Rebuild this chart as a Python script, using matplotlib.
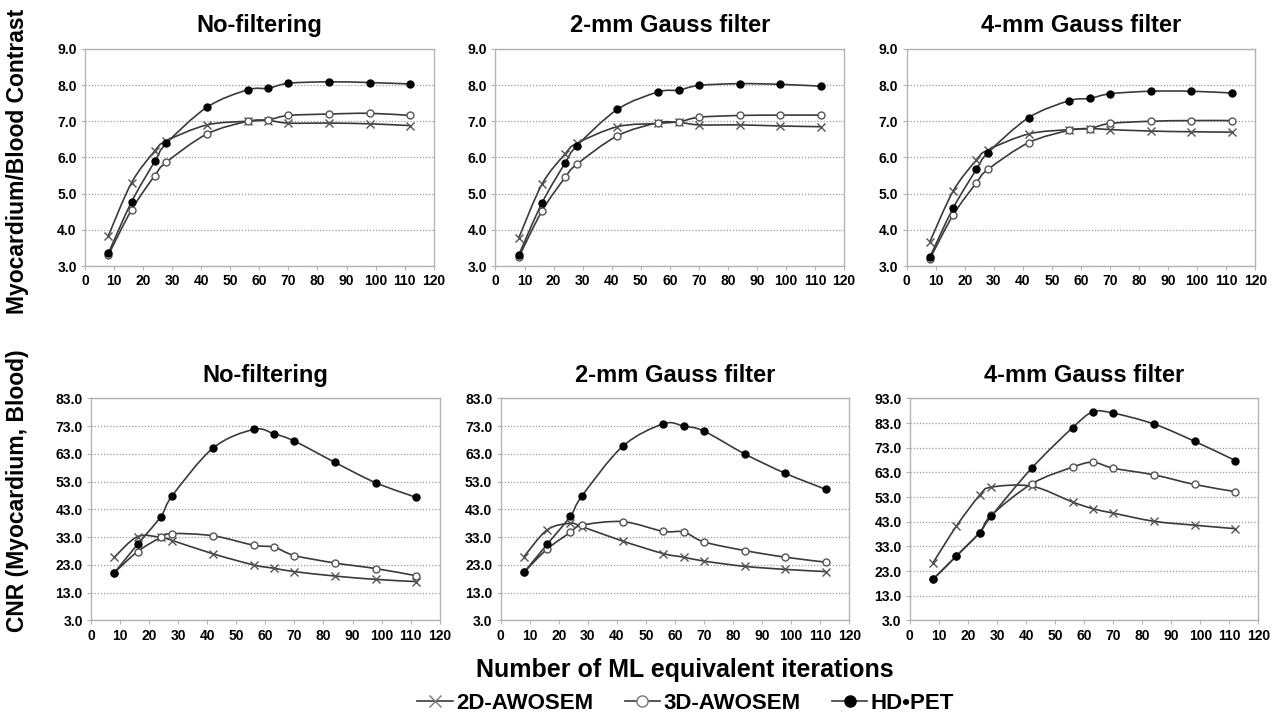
import numpy as np
import matplotlib
matplotlib.use("Agg")
import matplotlib.pyplot as plt
from matplotlib.path import Path
from matplotlib.patches import PathPatch
from matplotlib.lines import Line2D

plt.rcParams['font.family'] = ['Liberation Sans', 'DejaVu Sans']
plt.rcParams['font.weight'] = 'bold'

# ML equivalent iterations
iters = [8, 16, 24, 28, 42, 56, 63, 70, 84, 98, 112]

# Myocardium/Blood contrast
con_nofilt_2d = [3.83, 5.30, 6.18, 6.46, 6.90, 7.00, 7.02, 6.95, 6.95, 6.93, 6.88]
con_nofilt_3d = [3.30, 4.55, 5.50, 5.87, 6.65, 7.00, 7.04, 7.16, 7.20, 7.22, 7.16]
con_nofilt_hd = [3.35, 4.77, 5.89, 6.39, 7.39, 7.87, 7.91, 8.05, 8.09, 8.07, 8.03]

con_2mm_2d = [3.77, 5.26, 6.10, 6.39, 6.85, 6.94, 6.97, 6.90, 6.90, 6.87, 6.85]
con_2mm_3d = [3.24, 4.52, 5.45, 5.81, 6.60, 6.96, 6.98, 7.11, 7.16, 7.17, 7.17]
con_2mm_hd = [3.30, 4.74, 5.85, 6.32, 7.33, 7.81, 7.86, 7.99, 8.04, 8.02, 7.97]

con_4mm_2d = [3.67, 5.07, 5.93, 6.21, 6.65, 6.77, 6.80, 6.77, 6.73, 6.71, 6.70]
con_4mm_3d = [3.20, 4.41, 5.30, 5.67, 6.41, 6.75, 6.80, 6.94, 7.00, 7.02, 7.02]
con_4mm_hd = [3.25, 4.60, 5.67, 6.13, 7.10, 7.57, 7.63, 7.76, 7.83, 7.83, 7.78]

# CNR (Myocardium, Blood)
cnr_nofilt_2d = [25.8, 33.2, 32.9, 31.8, 27.0, 23.0, 21.8, 20.6, 19.0, 17.8, 17.0]
cnr_nofilt_3d = [20.2, 27.8, 32.9, 34.3, 33.5, 30.1, 29.4, 26.4, 23.7, 21.7, 19.1]
cnr_nofilt_hd = [20.2, 30.4, 40.4, 48.0, 65.1, 71.8, 70.2, 67.6, 59.9, 52.6, 47.3]

cnr_2mm_2d = [25.9, 35.6, 38.0, 36.8, 31.6, 27.1, 25.8, 24.4, 22.5, 21.4, 20.6]
cnr_2mm_3d = [20.3, 28.7, 34.7, 37.3, 38.6, 35.1, 34.9, 31.3, 28.2, 25.8, 24.0]
cnr_2mm_hd = [20.3, 30.4, 40.5, 47.8, 65.7, 73.8, 73.0, 71.2, 63.0, 56.0, 50.2]

cnr_4mm_2d = [26.4, 41.2, 53.7, 57.0, 57.4, 51.0, 48.3, 46.5, 43.2, 41.6, 40.2]
cnr_4mm_3d = [19.7, 29.1, 38.6, 45.6, 58.4, 65.1, 67.1, 64.7, 62.0, 58.1, 55.2]
cnr_4mm_hd = [19.7, 29.1, 38.6, 45.2, 64.8, 81.1, 87.5, 87.0, 82.6, 75.6, 67.8]

titles = ["No-filtering", "2-mm Gauss filter", "4-mm Gauss filter"]
series_names = ["2D-AWOSEM", "3D-AWOSEM", "HD\u2022PET"]

line_col = "#3a3a3a"
frame_col = "#b4b4b4"


def smooth_path(xs, ys):
    # Excel-style smoothed line: cubic Bezier through every point
    pts = np.column_stack([xs, ys]).astype(float)
    n = len(pts)
    verts = [pts[0]]
    codes = [Path.MOVETO]
    for i in range(n - 1):
        p0 = pts[i - 1] if i > 0 else pts[i]
        p1 = pts[i]
        p2 = pts[i + 1]
        p3 = pts[i + 2] if i + 2 < n else pts[i + 1]
        c1 = p1 + (p2 - p0) / 6.0
        c2 = p2 - (p3 - p1) / 6.0
        verts += [c1, c2, p2]
        codes += [Path.CURVE4] * 3
    return Path(verts, codes)


def draw_panel(ax, s2d, s3d, shd, yticks, title):
    for ys in (s2d, s3d, shd):
        ax.add_patch(PathPatch(smooth_path(iters, ys), fill=False,
                               edgecolor=line_col, lw=1.2, zorder=2))
    ax.plot(iters, s2d, ls='none', marker='x', ms=5.5, mew=1.0,
            color="#555555", zorder=3)
    ax.plot(iters, s3d, ls='none', marker='o', ms=5, mew=1.0,
            mfc='white', mec="#555555", zorder=4)
    ax.plot(iters, shd, ls='none', marker='o', ms=5, mew=1.0,
            mfc='black', mec='black', zorder=5)
    ax.set_xlim(0, 120)
    ax.set_xticks(range(0, 121, 10))
    ax.set_ylim(yticks[0], yticks[-1])
    ax.set_yticks(yticks)
    ax.set_yticklabels(["%.1f" % v for v in yticks])
    ax.grid(axis='y', ls=(0, (1, 1.5)), color="#9a9a9a", lw=0.9)
    ax.set_axisbelow(True)
    for sp in ax.spines.values():
        sp.set_color(frame_col)
        sp.set_linewidth(1.0)
    ax.tick_params(axis='both', labelsize=10, length=3, color=frame_col,
                   pad=3, direction='out')
    for lab in ax.get_xticklabels() + ax.get_yticklabels():
        lab.set_fontweight('bold')
    ax.set_title(title, fontsize=17, fontweight='bold', pad=12)


fig = plt.figure(figsize=(12.77, 7.19), dpi=100)

top_lefts = [0.0666, 0.388, 0.710]
bot_lefts = [0.0713, 0.392, 0.7125]
w = 0.273

con_sets = [(con_nofilt_2d, con_nofilt_3d, con_nofilt_hd),
            (con_2mm_2d, con_2mm_3d, con_2mm_hd),
            (con_4mm_2d, con_4mm_3d, con_4mm_hd)]
cnr_sets = [(cnr_nofilt_2d, cnr_nofilt_3d, cnr_nofilt_hd),
            (cnr_2mm_2d, cnr_2mm_3d, cnr_2mm_hd),
            (cnr_4mm_2d, cnr_4mm_3d, cnr_4mm_hd)]

con_ticks = [3.0, 4.0, 5.0, 6.0, 7.0, 8.0, 9.0]
cnr_ticks = [3.0, 13.0, 23.0, 33.0, 43.0, 53.0, 63.0, 73.0, 83.0]
cnr_ticks_4mm = cnr_ticks + [93.0]

for i in range(3):
    ax = fig.add_axes([top_lefts[i], 0.630, w, 0.302])
    draw_panel(ax, *con_sets[i], con_ticks, titles[i])

for i in range(3):
    ax = fig.add_axes([bot_lefts[i], 0.137, w, 0.309])
    ticks = cnr_ticks_4mm if i == 2 else cnr_ticks
    draw_panel(ax, *cnr_sets[i], ticks, titles[i])

fig.text(0.014, 0.775, "Myocardium/Blood Contrast", rotation=90,
         ha='center', va='center', fontsize=16.5, fontweight='bold')
fig.text(0.014, 0.318, "CNR (Myocardium, Blood)", rotation=90,
         ha='center', va='center', fontsize=16.5, fontweight='bold')
fig.text(0.536, 0.068, "Number of ML equivalent iterations",
         ha='center', va='center', fontsize=18, fontweight='bold')

handles = [
    Line2D([], [], color=line_col, lw=1.2, marker='x', ms=8, mec="#777777"),
    Line2D([], [], color=line_col, lw=1.2, marker='o', ms=8, mfc='white',
           mec="#777777"),
    Line2D([], [], color=line_col, lw=1.2, marker='o', ms=8, mfc='black',
           mec='black'),
]
fig.legend(handles, series_names, loc='center', bbox_to_anchor=(0.537, 0.022),
           ncol=3, frameon=False, handlelength=1.6,
           handletextpad=0.15, columnspacing=1.4,
           prop={'weight': 'bold', 'size': 16})

fig.savefig("out.png", dpi=100)
